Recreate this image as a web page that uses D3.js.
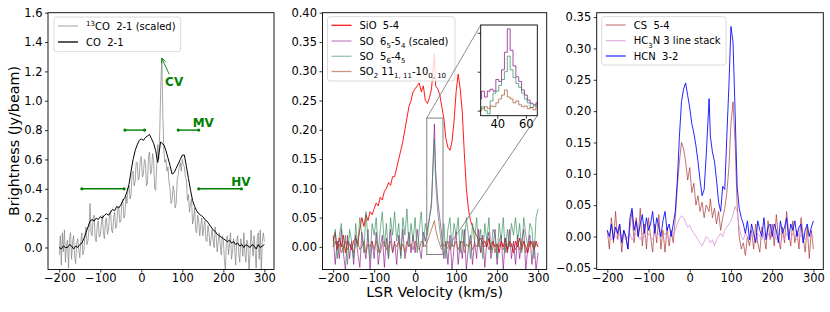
<!DOCTYPE html>
<html><head><meta charset="utf-8">
<script src="https://cdn.jsdelivr.net/npm/d3@7"></script>
<style>
body{margin:0;background:#fff;}
text{font-family:"DejaVu Sans",sans-serif;fill:#000;}
</style></head><body>
<svg id="c" width="830" height="312"></svg>
<script>
// ---------------- DATA ----------------
const vel = [
-200,-195,-190,-185,-180,-175,-170,-165,-160,-155,
-150,-145,-140,-135,-130,-125,-120,-115,-110,-105,
-100,-95,-90,-85,-80,-75,-70,-65,-60,-55,
-50,-45,-40,-35,-30,-25,-20,-15,-10,-5,
0,5,10,15,20,25,30,35,40,47,
50,55,60,65,70,75,80,85,90,95,
100,105,110,115,120,125,130,135,140,145,
150,155,160,165,170,175,180,185,190,195,
200,205,210,215,220,225,230,235,240,245,
250,255,260,265,270,275,280,285,290,295,
300];
// finer channel grid used for the 13CO spectrum (2.5 km/s channels)
const velFine = d3.range(-200, 300.1, 2.5);

// Left panel
const co13 = [
-0.05,0.08,-0.12,0.10,-0.03,0.12,-0.10,0.02,0.05,-0.14,0.06,0.10,-0.08,0.04,0.08,-0.06,-0.11,0.03,0.06,-0.02,
-0.07,0.04,0.10,-0.05,-0.02,0.08,0.14,0.02,0.05,0.12,0.30,0.10,0.08,0.20,0.22,0.06,0.04,0.15,0.18,0.07,
0.08,0.16,0.22,0.10,0.06,0.18,0.20,0.09,0.12,0.22,0.25,0.12,0.10,0.20,0.24,0.13,0.15,0.26,0.28,0.17,
0.18,0.30,0.33,0.20,0.22,0.35,0.30,0.40,0.42,0.33,0.36,0.50,0.52,0.42,0.45,0.58,0.58,0.46,0.48,0.60,
0.62,0.48,0.50,0.60,0.58,0.42,0.44,0.62,0.65,0.50,0.52,0.64,0.60,0.40,0.39,0.56,0.70,0.60,0.80,1.10,
1.29,0.90,0.66,0.58,0.60,0.52,0.55,0.45,0.40,0.30,0.32,0.42,0.38,0.27,0.30,0.46,0.50,0.55,0.58,0.52,
0.60,0.56,0.55,0.48,0.46,0.32,0.36,0.24,0.30,0.33,0.16,0.20,0.27,0.12,0.10,0.22,0.18,0.08,0.15,0.20,
0.08,0.14,0.18,0.05,0.04,0.15,0.10,0.01,0.06,0.12,0.05,0.00,0.14,0.08,-0.03,0.04,0.10,0.02,-0.05,0.08,
0.05,-0.08,-0.16,0.06,0.08,-0.05,0.02,0.10,-0.08,-0.02,0.06,0.00,-0.12,0.04,0.08,-0.04,-0.10,0.06,0.02,-0.06,
0.10,-0.04,-0.10,0.05,0.02,-0.16,-0.05,0.12,0.03,-0.06,0.08,-0.02,-0.14,0.06,0.10,-0.08,0.12,-0.17,0.04,0.10,
0.04];
const co = [
0.00,-0.01,0.01,0.00,0.00,0.02,0.01,-0.01,0.01,0.00,
0.02,0.03,0.06,0.10,0.14,0.18,0.19,0.18,0.20,0.19,
0.21,0.20,0.22,0.23,0.22,0.24,0.26,0.25,0.28,0.27,
0.29,0.32,0.34,0.38,0.43,0.52,0.60,0.66,0.70,0.73,
0.74,0.73,0.75,0.76,0.77,0.74,0.71,0.66,0.58,0.72,
0.71,0.70,0.66,0.61,0.56,0.50,0.51,0.54,0.57,0.60,
0.63,0.63,0.55,0.47,0.39,0.32,0.28,0.25,0.23,0.22,
0.21,0.19,0.18,0.16,0.14,0.12,0.11,0.09,0.08,0.07,
0.06,0.05,0.04,0.05,0.03,0.04,0.02,0.03,0.01,0.02,
0.00,0.02,0.01,0.00,0.02,0.01,-0.01,0.02,0.00,0.01,
0.02];

// Middle panel
const sio = [
0.010,0.025,-0.005,0.015,0.000,0.020,-0.010,0.010,0.005,-0.005,
0.010,0.015,0.005,0.030,0.050,0.035,0.055,0.045,0.060,0.055,
0.065,0.075,0.070,0.085,0.080,0.095,0.100,0.110,0.105,0.120,
0.120,0.135,0.150,0.165,0.180,0.200,0.220,0.240,0.250,0.265,
0.270,0.275,0.280,0.265,0.275,0.250,0.245,0.255,0.270,0.330,
0.275,0.270,0.260,0.240,0.220,0.185,0.170,0.165,0.180,0.215,
0.265,0.295,0.270,0.230,0.160,0.100,0.065,0.045,0.035,0.025,
0.020,0.010,0.015,0.005,0.010,0.000,0.015,-0.005,0.010,0.000,
0.005,-0.010,0.010,0.000,0.015,-0.005,0.010,0.005,-0.010,0.010,
0.000,0.015,-0.005,0.010,0.000,-0.010,0.010,0.005,-0.005,0.010,
0.000];
const so65 = [
0.020,-0.030,0.010,-0.020,0.030,-0.010,-0.040,0.020,-0.020,0.010,
-0.030,0.020,-0.010,-0.035,0.025,0.000,-0.020,0.030,-0.040,0.010,
-0.020,0.025,-0.030,0.000,0.020,-0.035,0.015,-0.020,0.030,-0.010,
0.010,-0.030,0.020,-0.015,0.030,-0.020,0.000,0.025,-0.010,0.020,
-0.010,0.030,0.000,-0.020,0.025,0.010,0.030,0.050,0.070,0.210,
0.130,0.080,0.050,0.020,-0.020,0.010,-0.030,0.020,-0.040,0.000,
0.025,-0.030,0.010,-0.020,0.030,-0.040,0.000,0.020,-0.030,0.010,
-0.020,0.030,-0.010,0.020,-0.035,0.010,0.025,-0.020,0.000,0.030,
-0.030,0.010,0.020,-0.040,0.015,-0.010,0.030,-0.020,0.010,-0.030,
0.020,-0.020,0.010,0.030,-0.040,0.000,0.020,-0.030,0.010,-0.040,
-0.010];
const so56 = [
0.000,0.030,-0.020,0.020,0.040,-0.010,0.020,-0.030,0.030,0.010,
-0.020,0.040,0.000,0.050,0.020,-0.010,0.060,0.010,-0.020,0.040,
0.020,0.050,-0.010,0.030,0.060,0.000,0.040,-0.020,0.050,0.020,
0.060,0.010,0.040,-0.020,0.050,0.020,0.065,0.000,0.040,0.010,
0.050,-0.010,0.030,0.060,0.000,0.040,0.020,0.050,0.080,0.185,
0.110,0.060,0.030,0.000,0.040,-0.020,0.030,0.050,0.000,0.040,
0.020,0.050,-0.010,0.030,0.000,0.050,0.020,-0.020,0.040,0.010,
0.050,0.000,0.030,-0.020,0.040,0.010,0.050,-0.010,0.030,0.020,
-0.020,0.040,0.010,0.050,-0.010,0.030,0.000,0.040,0.020,0.050,
0.010,0.040,-0.010,0.050,0.020,0.000,0.040,0.030,-0.020,0.050,
0.065];
const so2 = [
0.000,0.010,-0.005,0.005,-0.010,0.000,0.010,-0.005,0.005,0.000,
-0.010,0.005,0.010,-0.005,0.000,0.010,-0.010,0.005,0.000,0.010,
-0.005,0.010,0.000,-0.010,0.005,0.010,-0.005,0.000,0.010,-0.010,
0.005,0.000,0.010,-0.005,0.005,-0.010,0.010,0.000,0.005,-0.005,
0.010,0.000,-0.005,0.010,0.005,0.000,0.010,0.020,0.030,0.045,
0.030,0.015,0.005,-0.005,0.005,0.000,0.010,-0.005,0.005,0.000,
0.010,-0.005,0.005,0.010,-0.010,0.005,0.000,0.010,-0.005,0.005,
0.000,0.010,-0.010,0.005,0.000,0.010,-0.005,0.005,0.010,-0.010,
0.005,0.000,0.010,-0.005,0.005,-0.010,0.010,0.000,0.005,-0.005,
0.010,-0.005,0.000,0.010,-0.010,0.005,0.000,0.010,-0.005,0.005,
0.000];

// Inset (zoom on the narrow component)
const velInset = [28,30,32,34,36,38,40,42,44,46,48,50,52,54,56,58,60,62,64,66,68];
const so65In = [0.030,0.050,0.035,0.050,0.055,0.050,0.080,0.075,0.105,0.150,0.210,0.155,0.115,0.087,0.075,0.053,0.040,0.027,0.019,0.015,0.020];
const so56In = [0.005,0.010,0.000,-0.008,0.025,0.045,0.050,0.065,0.080,0.100,0.140,0.105,0.085,0.070,0.060,0.045,0.030,0.020,0.008,0.012,0.015];
const so2In  = [0.000,0.005,0.010,0.005,0.012,0.010,0.020,0.030,0.040,0.053,0.035,0.030,0.020,0.025,0.015,0.010,0.012,0.005,0.008,0.002,0.010];

// Right panel
const cs = [
0.010,-0.020,0.030,-0.010,0.040,-0.005,0.020,-0.025,0.010,0.000,
-0.020,0.015,0.040,-0.010,0.030,0.000,0.045,-0.015,0.020,-0.020,
0.030,0.000,-0.025,0.020,-0.010,0.035,-0.020,0.010,-0.025,0.015,
-0.015,0.010,-0.010,0.030,0.080,0.120,0.150,0.140,0.120,0.090,
0.110,0.070,0.085,0.050,0.065,0.040,0.055,0.030,0.050,0.040,
0.060,0.030,0.045,0.020,0.040,0.010,0.030,0.045,0.070,0.110,
0.180,0.215,0.150,0.050,0.000,-0.020,-0.010,-0.030,0.000,-0.015,
0.010,-0.020,0.020,-0.010,-0.025,0.015,0.000,-0.020,0.025,-0.005,
0.020,-0.015,0.035,0.000,-0.020,0.015,-0.010,0.040,0.005,-0.015,
0.025,-0.010,0.010,-0.020,0.030,0.000,-0.025,0.015,-0.035,0.010,
-0.020];
const hc3n = [
0.005,0.000,-0.005,0.005,0.000,-0.005,0.005,0.000,0.005,-0.005,
0.000,0.005,-0.005,0.000,0.005,0.000,-0.005,0.005,0.000,-0.005,
0.005,0.000,-0.005,0.005,0.000,0.005,-0.005,0.000,0.005,0.000,
-0.005,0.000,0.005,0.010,0.020,0.028,0.033,0.030,0.022,0.015,
0.018,0.010,0.005,0.000,-0.005,-0.010,-0.015,-0.008,0.000,-0.005,
-0.010,-0.005,-0.015,-0.005,0.000,0.005,0.000,0.010,0.015,0.020,
0.025,0.035,0.048,0.040,0.015,0.000,-0.005,0.005,0.000,-0.005,
0.005,0.000,-0.005,0.005,0.000,-0.005,0.005,0.000,0.005,-0.005,
0.000,0.005,-0.005,0.000,0.005,0.000,-0.005,0.005,0.000,-0.005,
0.005,0.000,-0.005,0.005,0.000,0.005,-0.005,0.000,0.005,0.000,
0.000];
const hcn = [
0.010,0.000,0.020,-0.005,0.015,0.005,0.020,-0.010,0.010,0.000,
-0.020,0.030,0.045,0.010,0.025,0.000,0.020,0.035,0.005,0.030,
0.010,0.020,0.040,0.005,0.030,0.015,0.000,0.025,0.040,0.010,
0.020,0.000,0.020,0.040,0.090,0.160,0.215,0.235,0.245,0.225,
0.205,0.180,0.165,0.145,0.120,0.090,0.065,0.075,0.130,0.220,
0.160,0.135,0.120,0.090,0.055,0.040,0.080,0.075,0.160,0.240,
0.335,0.310,0.200,0.080,0.045,0.030,0.020,0.005,0.025,-0.005,
0.020,0.005,-0.010,0.025,0.010,0.000,0.030,-0.005,0.015,0.020,
0.000,0.020,0.010,-0.010,0.025,0.005,0.015,0.030,-0.005,0.020,
0.010,0.025,0.000,0.015,0.020,-0.010,0.010,0.020,0.000,0.015,
0.025];

// Ticks
const xTicks = [-200,-100,0,100,200,300];
const yTicksLeft = [0,0.2,0.4,0.6,0.8,1.0,1.2,1.4,1.6];
const yTicksMid = [0,0.05,0.10,0.15,0.20,0.25,0.30,0.35,0.40];
const yTicksRight = [-0.05,0,0.05,0.10,0.15,0.20,0.25,0.30,0.35];
const insetXTicks = [40,60];
const insetYTicks = [0,0.1,0.2];

// Annotations (left panel, data coordinates)
const rangeBars = [
  {v0:-40, v1:8,   y:0.8},
  {v0:90,  v1:140, y:0.8},
  {v0:-145,v1:-42, y:0.4},
  {v0:140, v1:244, y:0.4}
];
const regionLabels = [
  {t:"CV", v:80,  y:1.13},
  {t:"MV", v:151, y:0.852},
  {t:"HV", v:243, y:0.447}
];
const cvArrow = {from:[68,1.18], to:[50,1.29]};

// ---------------- DRAW ----------------
const svg = d3.select("#c");
const TOP = 12.7, BOT = 269.5;
const TICKFS = 11.5, LEGFS = 10;

function rich(t, parts, fs){
  let cur = 0;
  parts.forEach(([s,k])=>{
    const target = k==="sub" ? fs*0.32 : (k==="sup" ? -fs*0.38 : 0);
    t.append("tspan").attr("dy", target-cur)
      .style("font-size", (k==="n"? fs : fs*0.7)+"px").text(s);
    cur = target;
  });
}

function styleAxis(a){
  a.select(".domain").remove();
  a.selectAll(".tick line").attr("stroke","#000").attr("stroke-width",0.8);
  a.selectAll(".tick text").style("font-size",TICKFS+"px").style("font-family","DejaVu Sans").attr("fill","#000");
}

function makePanel(id, x0, x1, xDom, yDom, yTicks, yFmt, series){
  const x = d3.scaleLinear().domain(xDom).range([x0,x1]);
  const y = d3.scaleLinear().domain(yDom).range([BOT,TOP]);
  const g = svg.append("g");
  g.append("clipPath").attr("id","clip"+id).append("rect")
    .attr("x",x0).attr("y",TOP).attr("width",x1-x0).attr("height",BOT-TOP);
  const lg = g.append("g").attr("clip-path","url(#clip"+id+")");
  series.forEach(s=>{
    const xs = s.v || vel;
    const line = d3.line().x((d,i)=>x(xs[i])).y(d=>y(d));
    lg.append("path").attr("d", line(s.data)).attr("fill","none")
      .attr("stroke", s.color).attr("stroke-opacity", s.op)
      .attr("stroke-width", 1).attr("stroke-linejoin","round");
  });
  const ax = g.append("g").attr("transform",`translate(0,${BOT})`)
    .call(d3.axisBottom(x).tickValues(xTicks).tickFormat(d3.format("d")).tickSize(3).tickPadding(1));
  const ay = g.append("g").attr("transform",`translate(${x0},0)`)
    .call(d3.axisLeft(y).tickValues(yTicks).tickFormat(d3.format(yFmt)).tickSize(3).tickPadding(2.5));
  styleAxis(ax); styleAxis(ay);
  return {g, x, y, x0, x1, lg};
}

function frame(g, x0, x1, y0, y1){
  g.append("rect").attr("x",x0).attr("y",y0).attr("width",x1-x0).attr("height",y1-y0)
    .attr("fill","none").attr("stroke","#000").attr("stroke-width",0.9);
}

function legend(g, box, rows, items){
  g.append("rect").attr("x",box.x).attr("y",box.y).attr("width",box.w).attr("height",box.h)
    .attr("rx",2.5).attr("fill","#fff").attr("fill-opacity",0.8)
    .attr("stroke","#d0d0d0").attr("stroke-width",0.8);
  items.forEach((it,i)=>{
    const yy = rows[i];
    g.append("line").attr("x1",box.x+4).attr("x2",box.x+24).attr("y1",yy).attr("y2",yy)
      .attr("stroke",it.color).attr("stroke-opacity",it.op).attr("stroke-width",1.3);
    const t = g.append("text").attr("x",box.x+32).attr("y",yy+3.6)
      .attr("xml:space","preserve").style("white-space","pre").style("font-size",LEGFS+"px");
    rich(t, it.parts, LEGFS);
  });
}

// ----- Left panel -----
const sCO13 = {data:co13, v:velFine, color:"#808080", op:0.7};
const sCO = {data:co, color:"#000000", op:1};
const P1 = makePanel(1, 48, 274, [-227.5,323.5], [-0.15,1.6], yTicksLeft, ".1f", [sCO13, sCO]);
const green = "#008000";
rangeBars.forEach(b=>{
  P1.g.append("line").attr("x1",P1.x(b.v0)).attr("x2",P1.x(b.v1))
    .attr("y1",P1.y(b.y)).attr("y2",P1.y(b.y)).attr("stroke",green).attr("stroke-width",1.4);
  [b.v0,b.v1].forEach(v=>P1.g.append("circle").attr("cx",P1.x(v)).attr("cy",P1.y(b.y)).attr("r",1.6).attr("fill",green));
});
regionLabels.forEach(l=>{
  P1.g.append("text").attr("x",P1.x(l.v)).attr("y",P1.y(l.y)).attr("dy","0.36em")
    .attr("text-anchor","middle").style("font-size","12px").style("font-weight","bold")
    .attr("fill",green).style("fill",green).text(l.t);
});
{
  const ax1 = P1.x(cvArrow.from[0]), ay1 = P1.y(cvArrow.from[1]);
  const ax2 = P1.x(cvArrow.to[0]), ay2 = P1.y(cvArrow.to[1]);
  const ang = Math.atan2(ay2-ay1, ax2-ax1), hl = 5, ha = 0.45;
  P1.g.append("path").attr("d",
    `M${ax1},${ay1}L${ax2},${ay2}M${ax2-hl*Math.cos(ang-ha)},${ay2-hl*Math.sin(ang-ha)}L${ax2},${ay2}L${ax2-hl*Math.cos(ang+ha)},${ay2-hl*Math.sin(ang+ha)}`)
    .attr("fill","none").attr("stroke",green).attr("stroke-width",0.9);
}
frame(P1.g, 48, 274, TOP, BOT);
legend(P1.g, {x:54,y:17,w:126.7,h:34.7}, [26,42], [
  {color:"#808080", op:0.55, parts:[["13","sup"],["CO  2-1 (scaled)","n"]]},
  {color:"#000", op:1, parts:[["CO  2-1","n"]]}
]);

// ----- Middle panel -----
const cPurple = "#800080", cGreen = "#2e8b57", cBrown = "#a0522d";
const P2 = makePanel(2, 322.5, 546.7, [-226,321], [-0.0386,0.40], yTicksMid, ".2f", [
  {data:sio, color:"#ff0000", op:0.9},
  {data:so65, color:cPurple, op:0.6},
  {data:so56, color:cGreen, op:0.65},
  {data:so2, color:cBrown, op:0.7}
]);
frame(P2.g, 322.5, 546.7, TOP, BOT);
legend(P2.g, {x:327.5,y:16.7,w:127.5,h:64.3}, [25.3,41,56.3,71.5], [
  {color:"#ff0000", op:0.9, parts:[["SiO  5-4","n"]]},
  {color:cPurple, op:0.45, parts:[["SO  6","n"],["5","sub"],["-5","n"],["4","sub"],[" (scaled)","n"]]},
  {color:cGreen, op:0.5, parts:[["SO  5","n"],["6","sub"],["-4","n"],["5","sub"]]},
  {color:cBrown, op:0.6, parts:[["SO","n"],["2","sub"],[" 11","n"],["1, 11","sub"],["-10","n"],["0, 10","sub"]]}
]);
// Inset zoom
const IN = {x0:480.7, x1:537.3, y0:25, y1:115.7, xDom:[28.4,68], yDom:[-0.013,0.22]};
{
  const rx0 = P2.x(IN.xDom[0]), rx1 = P2.x(IN.xDom[1]);
  const ry0 = P2.y(IN.yDom[1]), ry1 = P2.y(IN.yDom[0]);
  P2.g.append("rect").attr("x",rx0).attr("y",ry0).attr("width",rx1-rx0).attr("height",ry1-ry0)
    .attr("fill","none").attr("stroke","#808080").attr("stroke-width",1);
  P2.g.append("line").attr("x1",rx0).attr("y1",ry0).attr("x2",IN.x0).attr("y2",IN.y0)
    .attr("stroke","#808080").attr("stroke-width",0.9);
  P2.g.append("line").attr("x1",rx1).attr("y1",ry1).attr("x2",IN.x1).attr("y2",IN.y1)
    .attr("stroke","#808080").attr("stroke-width",0.9);

  const ix = d3.scaleLinear().domain(IN.xDom).range([IN.x0,IN.x1]);
  const iy = d3.scaleLinear().domain(IN.yDom).range([IN.y1,IN.y0]);
  const ig = P2.g.append("g");
  ig.append("rect").attr("x",IN.x0).attr("y",IN.y0).attr("width",IN.x1-IN.x0).attr("height",IN.y1-IN.y0).attr("fill","#fff");
  ig.append("clipPath").attr("id","clipIn").append("rect")
    .attr("x",IN.x0).attr("y",IN.y0).attr("width",IN.x1-IN.x0).attr("height",IN.y1-IN.y0);
  const il = ig.append("g").attr("clip-path","url(#clipIn)");
  const sline = d3.line().curve(d3.curveStep).x((d,i)=>ix(velInset[i])).y(d=>iy(d));
  [[so65In,cPurple,0.7],[so56In,cGreen,0.7],[so2In,cBrown,0.7]].forEach(([d,c,o])=>{
    il.append("path").attr("d",sline(d)).attr("fill","none").attr("stroke",c)
      .attr("stroke-opacity",o).attr("stroke-width",1);
  });
  const iax = ig.append("g").attr("transform",`translate(0,${IN.y1})`)
    .call(d3.axisBottom(ix).tickValues(insetXTicks).tickFormat(d3.format("d")).tickSize(3).tickPadding(1.5));
  const iay = ig.append("g").attr("transform",`translate(${IN.x0},0)`)
    .call(d3.axisLeft(iy).tickValues(insetYTicks).tickFormat("").tickSize(3));
  styleAxis(iax); styleAxis(iay);
  frame(ig, IN.x0, IN.x1, IN.y0, IN.y1);
}

// ----- Right panel -----
const P3 = makePanel(3, 596.7, 823.3, [-225.7,324], [-0.0526,0.357], yTicksRight, ".2f", [
  {data:cs, color:"#a52a2a", op:0.65},
  {data:hc3n, color:"#dda0dd", op:0.9},
  {data:hcn, color:"#0000ff", op:0.85}
]);
frame(P3.g, 596.7, 823.3, TOP, BOT);
legend(P3.g, {x:601.7,y:16.7,w:124.3,h:48.3}, [25,40.7,56], [
  {color:"#a52a2a", op:0.55, parts:[["CS  5-4","n"]]},
  {color:"#dda0dd", op:0.8, parts:[["HC","n"],["3","sub"],["N 3 line stack","n"]]},
  {color:"#0000ff", op:0.8, parts:[["HCN  3-2","n"]]}
]);

// Axis titles
svg.append("text").attr("transform","translate(18.5,141) rotate(-90)")
  .attr("text-anchor","middle").style("font-size","14.3px").text("Brightness (Jy/beam)");
svg.append("text").attr("x",434.6).attr("y",296.5)
  .attr("text-anchor","middle").style("font-size","14.2px").text("LSR Velocity (km/s)");
</script>
</body></html>
